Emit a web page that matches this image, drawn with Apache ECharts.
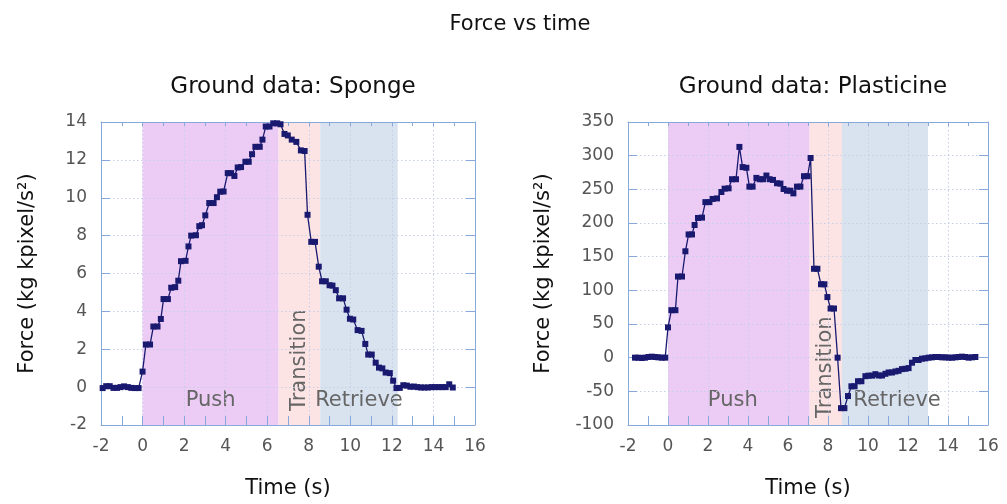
<!DOCTYPE html>
<html><head><meta charset="utf-8">
<script src="https://cdn.jsdelivr.net/npm/echarts@6/dist/echarts.min.js"></script>
<style>html,body{margin:0;padding:0;background:#fff}#c{width:1007px;height:504px}</style>
</head><body><div id="c"></div>
<script>
// ---- data ----
const spongeTime = [-1.92,-1.75,-1.58,-1.40,-1.23,-1.06,-0.89,-0.71,-0.54,-0.37,-0.19,
  0.00,0.16,0.36,0.52,0.72,0.88,1.01,1.22,1.38,1.57,
  1.72,1.85,2.07,2.21,2.34,2.57,2.73,2.86,3.02,3.21,
  3.42,3.58,3.74,3.90,4.10,4.26,4.42,4.58,4.74,4.95,
  5.11,5.27,5.43,5.64,5.77,5.93,6.11,6.29,6.48,6.64,
  6.83,6.99,7.18,7.40,7.62,7.80,7.94,8.12,8.30,8.48,
  8.64,8.82,9.00,9.14,9.30,9.46,9.65,9.82,9.98,10.14,
  10.35,10.54,10.72,10.86,11.03,11.22,11.38,11.54,11.70,11.90,
  12.06,12.22,12.38,12.55,12.72,12.89,13.06,13.23,13.40,13.57,
  13.74,13.91,14.08,14.25,14.42,14.59,14.76,14.93];
const spongeForce = [-0.05,0.05,0.05,-0.04,-0.04,0.00,0.04,0.00,-0.04,-0.05,-0.05,
  0.82,2.25,2.25,3.20,3.20,3.60,4.65,4.65,5.25,5.28,
  5.62,6.65,6.67,7.43,8.00,8.02,8.50,8.55,9.07,9.72,
  9.72,10.03,10.32,10.33,11.30,11.30,11.15,11.60,11.62,11.90,
  11.90,12.30,12.69,12.69,13.07,13.76,13.76,13.93,13.93,13.88,
  13.37,13.29,13.07,12.95,12.50,12.47,9.10,7.67,7.67,6.36,
  5.59,5.59,5.38,5.36,5.12,4.69,4.69,4.09,3.61,3.57,
  3.01,2.97,2.28,1.72,1.72,1.29,1.03,0.99,0.77,0.74,
  0.34,-0.05,-0.04,0.10,0.08,0.02,0.03,0.00,-0.02,-0.02,
  -0.02,0.00,0.00,0.00,0.00,0.00,0.15,-0.02];

const plasticineTime = [-1.65,-1.48,-1.31,-1.15,-0.98,-0.81,-0.64,-0.48,-0.31,-0.14,
  0.00,0.17,0.37,0.50,0.70,0.87,1.03,1.20,1.33,1.50,
  1.70,1.87,2.07,2.23,2.45,2.67,2.83,3.03,3.20,3.40,
  3.57,3.73,3.92,4.07,4.23,4.42,4.58,4.75,4.92,5.08,
  5.25,5.45,5.62,5.78,5.95,6.12,6.27,6.45,6.62,6.80,
  6.98,7.13,7.30,7.47,7.65,7.82,7.97,8.13,8.30,8.48,
  8.65,8.82,9.00,9.17,9.33,9.50,9.67,9.87,10.03,10.20,
  10.37,10.53,10.70,10.87,11.03,11.20,11.37,11.53,11.70,11.87,
  12.03,12.20,12.37,12.53,12.70,12.87,13.03,13.20,13.37,13.53,
  13.70,13.87,14.03,14.20,14.37,14.53,14.70,14.87,15.03,15.20,
  15.37];
const plasticineForce = [0,0,-0.5,0,1,1.5,1,0.5,0,0,
  45,70.5,70.5,120.5,120.5,158,183,183,197,207.5,
  208,231,231,235.7,236.5,246,251,251.5,265,265,
  313,283,282,254,254,267,265,265,270.5,265,
  264,259,258.5,250.5,248,248,244,254,254,269.5,
  269.5,296.5,132,132,109,109,90,73,73,0,
  -75,-75,-57,-42.5,-42.5,-35,-35,-27.5,-26.7,-26.7,
  -24.5,-26.5,-26.5,-24,-22,-22,-20.5,-19.5,-17,-16.5,
  -15.5,-7.5,-3.5,-3.5,-1.5,-1,0,0.5,1,1,
  0.5,0.5,0,0,0.5,1,1.5,1,0,0.5,
  1];

const phaseNames = ['Push','Transition','Retrieve'];
const spongePhaseBounds = [[0,6.55],[6.55,8.55],[8.55,12.28]];
const plasticinePhaseBounds = [[0,7.08],[7.08,8.70],[8.70,13.0]];

const timeAxis = {min:-2, max:16, interval:2};
const spongeAxis = {min:-2, max:14, interval:2};
const plasticineAxis = {min:-100, max:350, interval:50};

const mainTitle = 'Force vs time';
const plotTitles = ['Ground data: Sponge','Ground data: Plasticine'];
const xName = 'Time (s)';
const yName = 'Force (kg kpixel/s\u00b2)';

// ---- styling ----
const FONT = 'DejaVu Sans';
const phaseColors = {Push:'#ecccf5', Transition:'#fde4e4', Retrieve:'#d9e3f0'};
const labelOffsets = [[0,0,0],[-6,-7,12]];
const frameColor = '#86a8da';
const gridColor = '#c6cfe6';
const lineColor = '#191970';

function pairs(t, f){ return t.map((v,i)=>[v,f[i]]); }

function phaseAreas(bounds, gi){
  return bounds.map((b,i)=>{
    const name = phaseNames[i];
    const rot = name === 'Transition';
    return [{
      xAxis: b[0], yAxis: 'min',
      itemStyle:{color: phaseColors[name]},
      label:{
        show:true, formatter: name, position:'insideBottom', distance: 14,
        color:'#666', fontSize:21, fontFamily:FONT,
        rotate: rot ? 90 : 0,
        align: rot ? 'left' : 'center',
        verticalAlign: rot ? 'middle' : 'bottom',
        offset:[labelOffsets[gi][i], 0]
      }
    },{xAxis: b[1], yAxis: 'max'}];
  });
}

const grids = [
  {left:101, right:532, top:122, bottom:73},
  {left:628, right:19, top:122, bottom:73}
];
const yAxes = [spongeAxis, plasticineAxis];
const yNameGap = [63, 74];

const xAxis = [], yAxis = [];
grids.forEach((g, gi)=>{
  xAxis.push({
    type:'value', gridIndex:gi, position:'bottom', z:3,
    min:timeAxis.min, max:timeAxis.max, interval:timeAxis.interval,
    name:xName, nameLocation:'middle', nameGap:53,
    nameTextStyle:{fontFamily:FONT, fontSize:21, color:'#111'},
    axisLine:{show:true, onZero:false, lineStyle:{color:frameColor, width:1}},
    axisTick:{show:true, inside:true, length:9, lineStyle:{color:frameColor}},
    minorTick:{show:true, splitNumber:2, length:9, lineStyle:{color:frameColor}},
    axisLabel:{fontFamily:FONT, fontSize:17, color:'#555', margin:13},
    splitLine:{show:true, lineStyle:{color:gridColor, type:[1.5,2.5], width:1}}
  });
  xAxis.push({
    type:'value', gridIndex:gi, position:'top', z:3,
    min:timeAxis.min, max:timeAxis.max, interval:timeAxis.interval,
    axisLine:{show:true, onZero:false, lineStyle:{color:frameColor, width:1}},
    axisTick:{show:true, inside:true, length:4, lineStyle:{color:frameColor}},
    minorTick:{show:true, splitNumber:2, length:4, lineStyle:{color:frameColor}},
    axisLabel:{show:false}, splitLine:{show:false}
  });
  const ya = yAxes[gi];
  yAxis.push({
    type:'value', gridIndex:gi, position:'left', z:3,
    min:ya.min, max:ya.max, interval:ya.interval,
    name:yName, nameLocation:'middle', nameGap:yNameGap[gi],
    nameTextStyle:{fontFamily:FONT, fontSize:21, color:'#111'},
    axisLine:{show:true, onZero:false, lineStyle:{color:frameColor, width:1}},
    axisTick:{show:true, inside:true, length:9, lineStyle:{color:frameColor}},
    axisLabel:{fontFamily:FONT, fontSize:17, color:'#555', margin:14},
    splitLine:{show:true, lineStyle:{color:gridColor, type:[1.5,2.5], width:1}}
  });
  yAxis.push({
    type:'value', gridIndex:gi, position:'right', z:3,
    min:ya.min, max:ya.max, interval:ya.interval,
    axisLine:{show:true, onZero:false, lineStyle:{color:frameColor, width:1}},
    axisTick:{show:true, inside:true, length:9, lineStyle:{color:frameColor}},
    axisLabel:{show:false}, splitLine:{show:false}
  });
});

const datasets = [pairs(spongeTime, spongeForce), pairs(plasticineTime, plasticineForce)];
const bounds = [spongePhaseBounds, plasticinePhaseBounds];
const series = [];
datasets.forEach((d, gi)=>{
  series.push({
    type:'line', xAxisIndex:gi*2, yAxisIndex:gi*2, data:[], z:1, silent:true,
    markArea:{silent:true, data: phaseAreas(bounds[gi], gi)}
  });
  series.push({
    type:'line', xAxisIndex:gi*2, yAxisIndex:gi*2, data:d, z:5,
    symbol:'rect', symbolSize:6, showSymbol:true,
    lineStyle:{color:lineColor, width:1.3},
    itemStyle:{color:lineColor}
  });
});

const chart = echarts.init(document.getElementById('c'), null, {renderer:'canvas'});
chart.setOption({
  animation:false,
  backgroundColor:'#fff',
  title:[
    {text:mainTitle, left:515, textAlign:'center', top:9, textStyle:{fontFamily:FONT, fontSize:21, fontWeight:'normal', color:'#111'}},
    {text:plotTitles[0], left:288, textAlign:'center', top:71, textStyle:{fontFamily:FONT, fontSize:23, fontWeight:'normal', color:'#111'}},
    {text:plotTitles[1], left:808, textAlign:'center', top:71, textStyle:{fontFamily:FONT, fontSize:23, fontWeight:'normal', color:'#111'}}
  ],
  grid:grids, xAxis:xAxis, yAxis:yAxis, series:series
});
</script></body></html>
